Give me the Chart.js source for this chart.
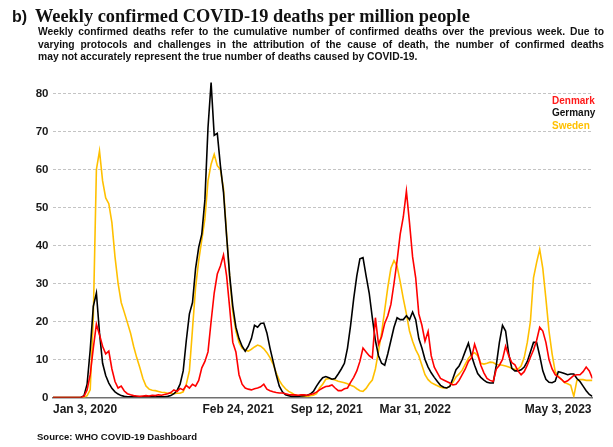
<!DOCTYPE html>
<html><head><meta charset="utf-8">
<script src="https://cdn.jsdelivr.net/npm/chart.js@4.4.1/dist/chart.umd.min.js"></script>
<style>
html,body{margin:0;padding:0;background:#fff;}
#wrap{position:relative;width:613px;height:447px;overflow:hidden;background:#fff;}
#c{position:absolute;left:0;top:0;}
.t{position:absolute;white-space:nowrap;color:#111;}
#lbl{left:12px;top:9px;font:bold 16px/16px 'Liberation Sans',Arial,sans-serif;}
#title{left:35px;top:8px;font:bold 17px/17px 'Liberation Serif','DejaVu Serif',serif;}
#sub{position:absolute;left:38px;top:26px;width:566px;font:bold 10.3px/12.5px 'Liberation Sans',Arial,sans-serif;color:#111;}
#sub div{text-align:justify;text-align-last:justify;white-space:nowrap;}
#sub div.last{text-align:left;text-align-last:left;}
#legend{position:absolute;left:552px;top:94.5px;font:bold 10px/12.8px 'Liberation Sans',Arial,sans-serif;}
#src{left:37px;top:431px;font:bold 9.5px/11px 'Liberation Sans',Arial,sans-serif;}
</style></head>
<body>
<div id="wrap">
<canvas id="c" width="613" height="447"></canvas>
<div class="t" id="lbl">b)</div>
<div class="t" id="title">Weekly confirmed COVID-19 deaths per million people</div>
<div id="sub">
<div>Weekly confirmed deaths refer to the cumulative number of confirmed deaths over the previous week. Due to</div>
<div>varying protocols and challenges in the attribution of the cause of death, the number of confirmed deaths</div>
<div class="last">may not accurately represent the true number of deaths caused by COVID-19.</div>
</div>
<div id="legend"></div>
<div class="t" id="src">Source: WHO COVID-19 Dashboard</div>
</div>
<script>
// ---- data ----
const stepDays = 7; // weekly points starting Jan 3, 2020
const tickDays = [0, 418, 618, 818, 1216];
const tickLabels = ['Jan 3, 2020', 'Feb 24, 2021', 'Sep 12, 2021', 'Mar 31, 2022', 'May 3, 2023'];
const seriesNames = ['Denmark', 'Germany', 'Sweden'];

const denmark = [
0,0,0,0,0,0,0,0,0,0,
0.3,2,6,13,19.3,16.5,13.5,11.5,12.2,7.5,
4.2,2.5,3,1.7,1,0.7,0.5,0.4,0.3,0.4,
0.5,0.4,0.6,0.5,0.7,0.6,0.8,1,1.3,2,
1.6,2.4,2,3.2,2.5,3.5,3,4.5,7.8,9.5,
12,20,27.5,32.5,34.6,37.5,32,23.5,14.5,12,
6,3.5,2.5,2.2,2,2.3,2.5,2.8,3.5,2.2,
1.8,1.5,1.3,1.2,1.2,1,0.8,0.7,0.7,0.6,
0.7,0.7,0.6,0.8,1,1.4,2,2.5,2.9,3,
3.3,2.5,1.8,1.8,2.3,2.5,4,5.3,7,9.5,
13,12,11,10.4,21,14,16,19.5,21.5,24.5,
30,36,43,47.5,54.3,46,37,31.5,22,19,
14.8,17.4,11,8,6.5,5,4.6,4.2,3.8,3.3,
3.5,4.5,6,7.5,9.5,10.4,14,11.5,8.5,6.5,
5,4.5,4.2,7.5,8.5,10,13.5,11,9.2,8.6,
7,6,6.8,8.5,10.6,12.5,15,18.5,17.5,14.5,
10,7.5,6,5.4,4.8,4,4.4,5.1,5.8,6,
6,6.8,8,7,5
];
const germany = [
0,0,0,0,0,0,0,0,0,0,
0.5,3.5,12.5,24,27.5,17,9,5.8,3.8,2.4,
1.5,0.9,0.5,0.3,0.2,0.2,0.2,0.2,0.2,0.2,
0.2,0.2,0.2,0.2,0.2,0.2,0.2,0.3,0.5,1,
1.8,3.5,7,15,22,25,34,39.5,43,52,
71,82.9,69,69.5,61,54,42.5,32,24,18.5,
15.5,13.5,12.2,13.5,15.5,19,18.5,19.5,19.6,17,
13,9.5,6,3,1.5,0.7,0.5,0.3,0.3,0.3,
0.4,0.5,0.6,0.9,1.6,3,4.2,5.2,5.5,5.2,
4.8,5,6.2,7.5,9,13,19,26,32,36.5,
36.8,32,27.5,21,15,11,9,8.5,11.5,15,
18.5,21,20.5,20.5,21.5,20.5,22.5,20.5,15.5,13,
10,8,6.5,5.3,4.2,3.2,2.7,2.5,2.9,5,
7.3,8.3,10,12.2,14.3,11,8.5,6.3,5.3,4.6,
4,3.8,3.8,8.5,14.5,19,17.5,11.5,7.7,7,
7,7.3,8,9.5,12,14.5,14.5,11,7,4.8,
4,3.9,4.3,6.8,6.6,6.3,6,6.2,6.2,5,
4.2,3,1.8,0.8,0.3
];
const sweden = [
0,0,0,0,0,0,0,0,0,0,
0,0.5,2,21,60,64.9,57,52.5,51,46,
37,30,25,22.4,19.7,17,13.5,10.5,7.9,5,
3,2.2,1.9,1.8,1.6,1.4,1.3,1.1,1.1,1,
1.1,1.1,1.5,3.5,7,18,29,36,41.5,47,
57,61.4,64,61,60,55,43,31.5,22.5,17.5,
14.5,13,12.4,12.2,12.7,13.3,13.8,13.5,12.8,11.8,
10.5,8.8,6.5,4.5,3.2,2.3,1.6,1.2,0.7,0.5,
0.4,0.3,0.3,0.5,0.6,1,2.5,3.5,4.8,5,
4.8,4.6,4.3,4.1,3.9,3.6,3.2,2.9,2.3,1.8,
1.6,2.4,3.6,4.6,7.5,12.2,17,23,29,34,
36,34.5,30.5,26,22,17.5,14.8,12.6,11,8.5,
6,4.7,3.9,3.5,3.1,2.7,2.5,2.5,3,4,
5.4,6.2,7.2,8.8,10.3,11.3,11.8,11,9,8.8,
9,9.3,9.2,8.7,8.6,8.5,8.3,8,7.7,7.4,
7.5,8.3,10.5,14.5,20,31.5,35.5,39,34,26,
17.5,11.5,6.8,5.6,4.8,3.9,3.6,3.2,0.3,4.5,
4.7,4.7,4.5,4.5,4.5
];

// ---- presentation ----
const colors = ['#ff0000', '#000000', '#ffc000'];
const legendColors = ['#ff1a1a', '#111111', '#ffc000'];
const series = [denmark, germany, sweden];

// fit title width
(function(){
  const t = document.getElementById('title');
  const w = t.getBoundingClientRect().width;
  const target = 435;
  t.style.fontSize = (17 * target / w) + 'px';
})();

const lg = document.getElementById('legend');
seriesNames.forEach((n, k) => {
  const d = document.createElement('div');
  d.textContent = n;
  d.style.color = legendColors[k];
  lg.appendChild(d);
});

const xMax = (denmark.length - 1) * stepDays;

new Chart(document.getElementById('c').getContext('2d'), {
  type: 'line',
  data: {
    datasets: series.map((s, k) => ({
      label: seriesNames[k],
      data: s.map((v, i) => ({x: i * stepDays, y: v})),
      borderColor: colors[k],
      backgroundColor: colors[k],
      borderWidth: 1.6,
      pointRadius: 0,
      tension: 0,
      fill: false
    }))
  },
  options: {
    responsive: false,
    animation: false,
    devicePixelRatio: 1,
    layout: {padding: {left: 0, right: 613 - 592.4, top: 78.3, bottom: 29.5}},
    plugins: {legend: {display: false}, tooltip: {enabled: false}},
    scales: {
      x: {
        type: 'linear', min: 0, max: xMax,
        afterBuildTicks: s => { s.ticks = tickDays.map(v => ({value: v})); },
        afterFit: s => { s.height = 20; },
        ticks: {
          autoSkip: false, maxRotation: 0, minRotation: 0, align: 'inner', padding: 5,
          color: '#1a1a1a', font: {family: "'Liberation Sans', Arial, sans-serif", weight: 'bold', size: 12},
          callback: (v, i) => tickLabels[i]
        },
        grid: {display: false, drawTicks: false},
        border: {display: true, color: '#707070', width: 1.5}
      },
      y: {
        min: 0, max: 84,
        afterFit: s => { s.width = 53; },
        ticks: {
          stepSize: 10, includeBounds: false, padding: 4.5,
          color: '#1a1a1a', font: {family: "'Liberation Sans', Arial, sans-serif", weight: 'bold', size: 11.5}
        },
        grid: {drawTicks: false, lineWidth: 1, color: c => (c.tick && c.tick.value === 0) ? 'rgba(0,0,0,0)' : '#c4c4c4'},
        border: {display: false, dash: [3, 2]}
      }
    }
  }
});
</script>
</body></html>
